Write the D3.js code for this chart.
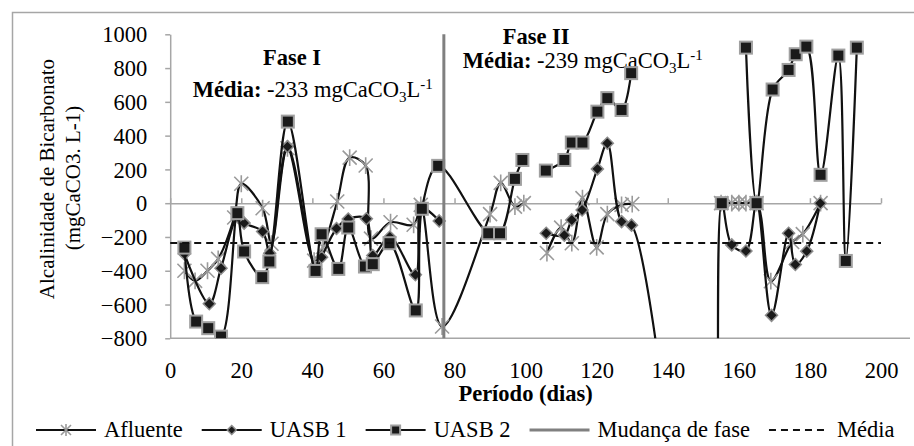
<!DOCTYPE html>
<html><head><meta charset="utf-8">
<script src="https://cdn.jsdelivr.net/npm/d3@7"></script>
<style>
body{margin:0;background:#fff;}
svg{display:block;}
svg text{font-family:"Liberation Serif","Times New Roman",serif !important;}
</style>
</head><body>
<svg id="c" width="914" height="446"></svg>
<script>
// ---------------- DATA ----------------
const xTicks = [0,20,40,60,80,100,120,140,160,180,200];
const yTicks = [-800,-600,-400,-200,0,200,400,600,800,1000];

const afluenteDias = [4,7,10.5,13.5,18,20,26,28.5,33,40.5,43,47,50.5,55,56.5,62,68.5,70.5,76.5,90,93,97,99.5,102,106,110,113,116,120,123,127,130,142,155,158,160,162,165,169,175,178,183];
const afluenteVals = [-400,-460,-400,-330,-85,115,-30,-240,325,-340,-260,10,270,223,-210,-113,-128,-10,-730,-65,120,-20,0,null,-295,-145,-237,30,-262,-65,-10,-5,null,0,0,0,0,0,-462,-230,-183,0];

const uasb1Dias = [4,11,14.3,19,20.8,26,28,33,41,42.6,46.8,50.1,55.2,57,61.8,69,70.8,75.7,90,105.8,110.9,113,115.9,120.2,123,127,129.8,152,155.2,158,162,165,169.2,174,175.9,179.1,182.9];
const uasb1Vals = [-300,-595,-385,-80,-118,-168,-296,335,-390,-320,-150,-94,-92,-310,-200,-424,-30,-105,null,-178,-190,-99,-40,203,355,-109,-130,-3000,0,-247,-283,0,-664,-178,-363,-284,0];

const uasb2Dias = [4,7.3,10.7,14.3,18.9,20.8,25.9,27.9,33.1,40.9,42.6,47.3,50.1,54.8,57,61.7,69.1,70.8,75.4,89.5,92.8,97,99.1,102,105.7,110.9,113,116,120.2,123,127,129.7,142,155.2,158,162,165,169.5,174,176,179,183,188,190.1,193.2];
const uasb2Vals = [-263,-701,-740,-790,-59,-286,-438,-345,483,-401,-184,-389,-144,-375,-361,-237,-635,-33,221,-178,-178,144,256,null,193,256,359,359,542,622,552,770,null,0,null,921,0,673,789,882,927,168,874,-342,921];

const faseDias = [77,77];
const faseVals = [-800,1000];
const mediaDias = [0,200];
const mediaVals = [-236,-236];

const legendLabels = ["Afluente","UASB 1","UASB 2","Mudança de fase","Média"];

// ---------------- LAYOUT ----------------
const svg = d3.select("#c");
const X0 = 170.2, X1 = 881, YT = 34.3, YB = 338.3;
const x = d3.scaleLinear().domain([0,200]).range([X0,X1]);
const y = d3.scaleLinear().domain([-800,1000]).range([YB,YT]);
const FS = 22.5;
const GRAY = "#a6a6a6";

// chart area border (left and top visible)
svg.append("path").attr("d","M12.5,446 V12.5 H914").attr("fill","none").attr("stroke",GRAY).attr("stroke-width",1.5);

// bottom plot border
svg.append("line").attr("x1",X0).attr("x2",910).attr("y1",YB).attr("y2",YB).attr("stroke",GRAY).attr("stroke-width",1.5);

// y axis
const yAx = svg.append("g").attr("transform",`translate(${X0},0)`)
  .call(d3.axisLeft(y).tickValues(yTicks).tickFormat(d3.format("d")).tickSize(5).tickSizeOuter(0).tickPadding(18));
yAx.attr("font-family",null);
yAx.select(".domain").attr("stroke",GRAY).attr("stroke-width",1.5);
yAx.selectAll(".tick line").attr("stroke",GRAY).attr("stroke-width",1.5);
yAx.selectAll(".tick text").attr("font-size",FS).attr("fill","#000").attr("dy","0.34em");

// x axis line at zero with upward ticks
const xAx = svg.append("g").attr("transform",`translate(0,${y(0)})`)
  .call(d3.axisTop(x).tickValues(xTicks).tickSize(5).tickSizeOuter(0).tickFormat(""));
xAx.select(".domain").attr("stroke",GRAY).attr("stroke-width",1.5);
xAx.selectAll(".tick line").attr("stroke",GRAY).attr("stroke-width",1.5);

// x tick labels
const xLab = svg.append("g").attr("transform",`translate(0,${YB})`)
  .call(d3.axisBottom(x).tickValues(xTicks).tickFormat(d3.format("d")).tickSize(0).tickPadding(0));
xLab.attr("font-family",null);
xLab.select(".domain").remove();
xLab.selectAll(".tick text").attr("font-size",FS).attr("fill","#000").attr("y",40).attr("dy",0);

// axis titles
svg.append("text").attr("x",(X0+X1)/2).attr("y",401).attr("text-anchor","middle")
  .attr("font-size",FS).attr("font-weight","bold").text("Período (dias)");
svg.append("text").attr("transform","translate(54,179) rotate(-90)").attr("text-anchor","middle")
  .attr("font-size",21).text("Alcalinidade de Bicarbonato");
svg.append("text").attr("transform","translate(80,178) rotate(-90)").attr("text-anchor","middle")
  .attr("font-size",21).text("(mgCaCO3. L-1)");

// annotations
function media(xp, yp, val){
  const t = svg.append("text").attr("x",xp).attr("y",yp).attr("font-size",FS);
  t.append("tspan").attr("font-weight","bold").text("Média:");
  t.append("tspan").text(" " + val + " mgCaCO");
  t.append("tspan").attr("font-size",15).attr("dy",5).text("3");
  t.append("tspan").attr("dy",-5).text("L");
  t.append("tspan").attr("font-size",15).attr("dy",-8).text("-1");
}
svg.append("text").attr("x",263).attr("y",65).attr("font-size",FS).attr("font-weight","bold").text("Fase I");
media(192.7, 96.7, "-233");
svg.append("text").attr("x",502.7).attr("y",44.3).attr("font-size",FS).attr("font-weight","bold").text("Fase II");
media(462.7, 68.3, "-239");

// clip
svg.append("clipPath").attr("id","clip").append("rect").attr("x",X0-10).attr("y",YT-12).attr("width",914).attr("height",YB-YT+12);
const plot = svg.append("g").attr("clip-path","url(#clip)");

function series(dias, vals){ return dias.map((d,i)=>({d, v: vals[i]})); }
const line = d3.line().defined(p=>p.v!==null).x(p=>x(p.d)).y(p=>y(p.v)).curve(d3.curveCatmullRom.alpha(0.5));

function asterisk(g, s){
  const h = s/2;
  g.append("path").attr("d",`M${-h},${-h}L${h},${h}M${-h},${h}L${h},${-h}M0,${-h*1.2}L0,${h*1.2}`)
    .attr("stroke","#9a9a9a").attr("stroke-width",1.6).attr("fill","none");
}
function diamond(g, s){
  const h=s/2;
  g.append("path").attr("d",`M0,${-h}L${h},0L0,${h}L${-h},0Z`).attr("fill","#1a1a1a").attr("stroke","#8c8c8c").attr("stroke-width",1.5);
}
function square(g, s){
  const h=s/2;
  g.append("rect").attr("x",-h).attr("y",-h).attr("width",s).attr("height",s).attr("fill","#1a1a1a").attr("stroke","#a0a0a0").attr("stroke-width",2);
}

const sets = [
  {data: series(afluenteDias, afluenteVals), mk: asterisk, size: 14},
  {data: series(uasb1Dias, uasb1Vals), mk: diamond, size: 12},
  {data: series(uasb2Dias, uasb2Vals), mk: square, size: 12}
];
sets.forEach(s=>{
  plot.append("path").datum(s.data).attr("d",line).attr("fill","none").attr("stroke","#111").attr("stroke-width",2.2);
  s.data.filter(p=>p.v!==null && p.v>=-800).forEach(p=>{
    const g = plot.append("g").attr("transform",`translate(${x(p.d)},${y(p.v)})`);
    s.mk(g, s.size);
  });
});

// fase change + media
svg.append("line").attr("x1",x(faseDias[0])).attr("x2",x(faseDias[1])).attr("y1",y(faseVals[0])).attr("y2",y(faseVals[1]))
  .attr("stroke","#808080").attr("stroke-width",3);
svg.append("line").attr("x1",x(mediaDias[0])).attr("x2",x(mediaDias[1])).attr("y1",y(mediaVals[0])).attr("y2",y(mediaVals[1]))
  .attr("stroke","#111").attr("stroke-width",2).attr("stroke-dasharray","7,5");

// legend
const LY = 437, LL = 60, GAP_T = 8, GAP_I = 19;
let cx = 36;
const kinds = ["ast","dia","sq","fase","media"];
kinds.forEach((k,i)=>{
  const g = svg.append("g");
  const ly = LY - 7;
  if(k==="fase"){
    g.append("line").attr("x1",cx).attr("x2",cx+LL).attr("y1",ly).attr("y2",ly).attr("stroke","#808080").attr("stroke-width",3);
  } else if(k==="media"){
    g.append("line").attr("x1",cx).attr("x2",cx+LL).attr("y1",ly).attr("y2",ly).attr("stroke","#111").attr("stroke-width",2).attr("stroke-dasharray","7,5");
  } else {
    g.append("line").attr("x1",cx).attr("x2",cx+LL).attr("y1",ly).attr("y2",ly).attr("stroke","#111").attr("stroke-width",2);
    const m = g.append("g").attr("transform",`translate(${cx+LL/2},${ly})`);
    if(k==="ast") asterisk(m,10); else if(k==="dia") diamond(m,9); else square(m,9);
  }
  const t = g.append("text").attr("x",cx+LL+GAP_T).attr("y",LY).attr("font-size",FS).text(legendLabels[i]);
  cx = cx + LL + GAP_T + t.node().getComputedTextLength() + GAP_I;
});
</script>
</body></html>
